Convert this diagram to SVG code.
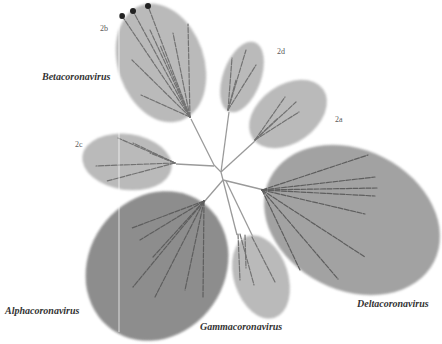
<svg xmlns="http://www.w3.org/2000/svg" width="442" height="344" viewBox="0 0 442 344">
<defs>
<style>
.light{fill:#bababa}
.dark{fill:#8d8d8d}
.mid{fill:#a2a2a2}
.leaf{stroke:#727272;stroke-width:1.2;fill:none;stroke-linecap:round;stroke-dasharray:5 1.5}
.leafd{stroke:#5e5e5e;stroke-width:1.2;fill:none;stroke-linecap:round;stroke-dasharray:5 1.5}
.conn{stroke:#9a9a9a;stroke-width:1.3;fill:none}
.clade{font-family:"Liberation Serif",serif;font-style:italic;font-weight:bold;font-size:10px;fill:#333333}
.tag{font-family:"Liberation Serif",serif;font-size:8px;fill:#5a5a5a}
</style>
<filter id="soft" x="-10%" y="-10%" width="120%" height="120%"><feGaussianBlur stdDeviation="0.8"/></filter>
</defs>
<rect width="442" height="344" fill="#fff"/>
<g id="connectors">
<path class="conn" d="M191,119 L214,165"/>
<path class="conn" d="M176,164 L214,166"/>
<path class="conn" d="M214,165 L221,172 L223,180"/>
<path class="conn" d="M229,112 L221,172"/>
<path class="conn" d="M255,141 L221,172"/>
<path class="conn" d="M223,180 L204,202"/>
<path class="conn" d="M223,180 L237,235"/>
<path class="conn" d="M226,181 L253,237"/>
<path class="conn" d="M223,180 L264,190"/>
</g>
<g id="betacoronavirus">
<ellipse class="light" filter="url(#soft)" cx="161" cy="63" rx="43" ry="61" transform="rotate(-19 161 63)"/>
<g class="leaf">
<path d="M190,117 L122,16"/><path d="M190,117 L133,11"/><path d="M190,117 L148,6"/>
<path d="M190,117 L173,33"/><path d="M190,117 L188,24"/><path d="M190,117 L132,60"/>
<path d="M190,117 L141,95"/><path d="M190,117 L160,45"/><path d="M190,117 L150,30"/>
</g>
<circle cx="122" cy="16" r="3" fill="#222"/><circle cx="133" cy="11" r="3" fill="#222"/><circle cx="148" cy="6" r="3" fill="#222"/>
<text class="tag" x="100" y="31">2b</text>
<text class="clade" x="42" y="80">Betacoronavirus</text>
</g>
<g id="clade2d">
<ellipse class="light" filter="url(#soft)" cx="242" cy="77" rx="19" ry="37" transform="rotate(20 242 77)"/>
<g class="leaf">
<path d="M228,110 L232,58"/><path d="M228,110 L246,50"/><path d="M228,110 L256,65"/><path d="M228,110 L236,80"/>
</g>
<text class="tag" x="277" y="54">2d</text>
</g>
<g id="clade2a">
<ellipse class="light" filter="url(#soft)" cx="288" cy="114" rx="43" ry="29" transform="rotate(-35 288 114)"/>
<g class="leaf">
<path d="M255,140 L285,97"/><path d="M255,140 L296,102"/><path d="M255,140 L299,112"/><path d="M255,140 L278,118"/>
</g>
<text class="tag" x="335" y="122">2a</text>
</g>
<g id="clade2c">
<ellipse class="light" filter="url(#soft)" cx="127" cy="162" rx="45" ry="28" transform="rotate(8 127 162)"/>
<g class="leaf">
<path d="M175,163 L118,138"/><path d="M175,163 L133,143"/><path d="M175,163 L96,166"/><path d="M175,163 L107,181"/><path d="M175,163 L150,153"/>
</g>
<text class="tag" x="75" y="147">2c</text>
</g>
<g id="alphacoronavirus">
<ellipse class="dark" filter="url(#soft)" cx="157" cy="266" rx="68" ry="78" transform="rotate(35 157 266)"/>
<g class="leafd">
<path d="M204,201 L132,228"/><path d="M204,201 L140,240"/><path d="M204,201 L153,257"/><path d="M204,201 L133,287"/>
<path d="M204,201 L155,297"/><path d="M204,201 L185,290"/><path d="M204,201 L203,297"/>
</g>
<text class="clade" x="5" y="314">Alphacoronavirus</text>
</g>
<g id="gammacoronavirus">
<ellipse class="light" filter="url(#soft)" cx="261" cy="277" rx="27" ry="43" transform="rotate(-18 261 277)"/>
<g class="leaf">
<path d="M238,234 L240,280"/><path d="M240,234 L254,285"/><path d="M252,237 L275,282"/><path d="M245,235 L246,268"/>
</g>
<text class="clade" x="200" y="330">Gammacoronavirus</text>
</g>
<g id="deltacoronavirus">
<ellipse class="mid" filter="url(#soft)" cx="352" cy="220" rx="92" ry="70" transform="rotate(27 352 220)"/>
<g class="leafd">
<path d="M262,190 L368,155"/><path d="M262,190 L375,177"/><path d="M262,190 L377,188"/><path d="M262,190 L375,196"/>
<path d="M262,190 L365,214"/><path d="M262,190 L365,257"/><path d="M262,190 L338,279"/><path d="M262,190 L300,270"/>
</g>
<text class="clade" x="357" y="307">Deltacoronavirus</text>
</g>
<line x1="119" y1="5" x2="119" y2="332" stroke="#fff" stroke-width="1" opacity="0.7"/>
</svg>
